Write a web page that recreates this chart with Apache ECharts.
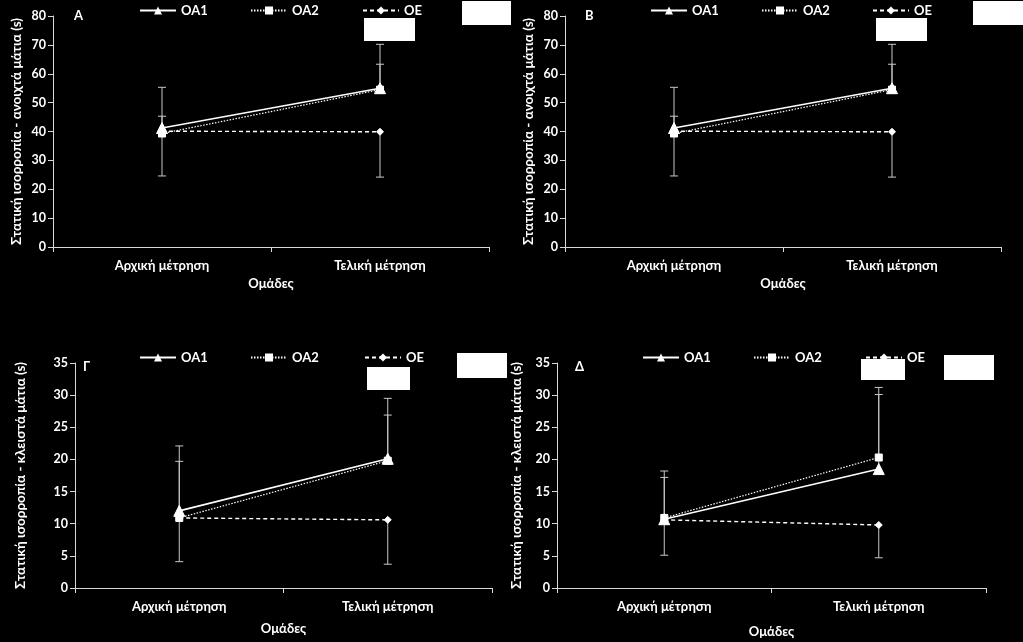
<!DOCTYPE html>
<html><head><meta charset="utf-8">
<script src="https://cdn.jsdelivr.net/npm/echarts@6/dist/echarts.min.js"></script>
<style>html,body{margin:0;padding:0;background:#000}#c{width:1023px;height:642px}</style>
</head><body><div id="c"></div>
<script>
// ---- data ----
const categories = ['Αρχική μέτρηση', 'Τελική μέτρηση'];
const seriesNames = ['OA1', 'OA2', 'OE'];
const yTicksOpen = [0, 80, 10];     // min, max, interval
const yTicksClosed = [0, 35, 5];
// Panel A (open eyes)
const A_OA1 = [41.2, 55.0];  const A_OA1_err = [55.3, 70.2];
const A_OA2 = [39.3, 54.5];  const A_OA2_err = [45.3, 63.3];
const A_OE  = [40.1, 39.9];  const A_OE_err  = [24.6, 24.2];
// Panel B (open eyes)
const B_OA1 = [41.2, 55.0];  const B_OA1_err = [55.3, 70.2];
const B_OA2 = [39.3, 54.5];  const B_OA2_err = [45.3, 63.3];
const B_OE  = [40.1, 39.9];  const B_OE_err  = [24.6, 24.2];
// Panel Γ (closed eyes)
const C_OA1 = [12.0, 20.1];  const C_OA1_err = [22.1, 29.5];
const C_OA2 = [10.9, 19.8];  const C_OA2_err = [19.7, 26.9];
const C_OE  = [10.9, 10.6];  const C_OE_err  = [4.1, 3.7];
// Panel Δ (closed eyes)
const D_OA1 = [10.7, 18.5];  const D_OA1_err = [18.2, 30.1];
const D_OA2 = [10.9, 20.3];  const D_OA2_err = [17.2, 31.2];
const D_OE  = [10.6, 9.8];   const D_OE_err  = [5.1, 4.7];

const yNameOpen = 'Στατική ισορροπία - ανοιχτά μάτια (s)';
const yNameClosed = 'Στατική ισορροπία - κλειστά μάτια (s)';
const xName = 'Ομάδες';
const letters = ['Α', 'Β', 'Γ', 'Δ'];

// ---- layout ----
const FONT = 'Lato, "Noto Sans", sans-serif';
const panels = [
  {grid:{left:53, right:534, top:16, bottom:395}, ticks:yTicksOpen, yName:yNameOpen, vals:[A_OA1,A_OA2,A_OE], errs:[A_OA1_err,A_OA2_err,A_OE_err], legX:[139,250,362], legY:4, letter:{x:79, y:16}, yGap:29, xGap:30},
  {grid:{left:565, right:22, top:16, bottom:395}, ticks:yTicksOpen, yName:yNameOpen, vals:[B_OA1,B_OA2,B_OE], errs:[B_OA1_err,B_OA2_err,B_OE_err], legX:[650,761,872], legY:4, letter:{x:590, y:16}, yGap:29, xGap:30},
  {grid:{left:75, right:531, top:363, bottom:54}, ticks:yTicksClosed, yName:yNameClosed, vals:[C_OA1,C_OA2,C_OE], errs:[C_OA1_err,C_OA2_err,C_OE_err], legX:[139,250,364], legY:351, letter:{x:88, y:367}, yGap:47, xGap:34},
  {grid:{left:557, right:37, top:363, bottom:54}, ticks:yTicksClosed, yName:yNameClosed, vals:[D_OA1,D_OA2,D_OE], errs:[D_OA1_err,D_OA2_err,D_OE_err], legX:[642,753,865], legY:351, letter:{x:580, y:367}, yGap:33, xGap:37}
];

const lineStyles = [
  {type:'solid', width:1.6, symbol:'triangle', size:11},
  {type:[1.5,1.5], width:1.2, symbol:'rect', size:7},
  {type:[4,3], width:1.4, symbol:'diamond', size:7}
];

const grids = [], xAxes = [], yAxes = [], series = [], legends = [], graphics = [];
panels.forEach((p, i) => {
  grids.push(Object.assign({containLabel:false}, p.grid));
  xAxes.push({
    type:'category', gridIndex:i, data:categories, boundaryGap:true,
    name:xName, nameLocation:'middle', nameGap:p.xGap,
    nameTextStyle:{color:'#fff', fontSize:13, fontWeight:'bold', fontFamily:FONT},
    axisLine:{lineStyle:{color:'#d9d9d9', width:1}},
    axisTick:{show:true, length:5, lineStyle:{color:'#d9d9d9'}},
    axisLabel:{color:'#fff', fontSize:13, fontWeight:'bold', fontFamily:FONT, margin:12},
    splitLine:{show:false}
  });
  yAxes.push({
    type:'value', gridIndex:i, min:p.ticks[0], max:p.ticks[1], interval:p.ticks[2],
    name:p.yName, nameLocation:'middle', nameGap:p.yGap, nameRotate:90,
    nameTextStyle:{color:'#fff', fontSize:13.5, fontWeight:'bold', fontFamily:FONT},
    axisLine:{show:true, lineStyle:{color:'#d9d9d9', width:1}},
    axisTick:{show:true, length:5, lineStyle:{color:'#d9d9d9'}},
    axisLabel:{color:'#fff', fontSize:12.5, fontWeight:'bold', fontFamily:FONT, margin:7},
    splitLine:{show:false}
  });
  // error bars
  seriesNames.forEach((nm, k) => {
    const errData = categories.map((c, j) => [j, p.vals[k][j], p.errs[k][j]]);
    series.push({
      type:'custom', name:nm + '_err', xAxisIndex:i, yAxisIndex:i, z:1, silent:true,
      data:errData,
      renderItem:function(params, api){
        const a = api.coord([api.value(0), api.value(1)]);
        const b = api.coord([api.value(0), api.value(2)]);
        const st = {stroke:'#c8c8c8', lineWidth:1};
        return {type:'group', children:[
          {type:'line', shape:{x1:a[0], y1:a[1], x2:b[0], y2:b[1]}, style:st},
          {type:'line', shape:{x1:b[0]-4, y1:b[1], x2:b[0]+4, y2:b[1]}, style:st}
        ]};
      }
    });
  });
  seriesNames.forEach((nm, k) => {
    const ls = lineStyles[k];
    series.push({
      type:'line', name:nm, xAxisIndex:i, yAxisIndex:i, z:3,
      data:p.vals[k], symbol:ls.symbol, symbolSize:ls.size, showSymbol:true,
      lineStyle:{color:'#fff', width:ls.width, type:ls.type},
      itemStyle:{color:'#fff', borderColor:'#fff'},
      animation:false
    });
    legends.push({
      left:p.legX[k], top:p.legY, padding:0, data:[nm], itemWidth:36, itemHeight:10,
      textStyle:{color:'#fff', fontSize:13, fontWeight:'bold', fontFamily:FONT},
      inactiveColor:'#fff'
    });
  });
  graphics.push({type:'text', left:p.letter.x - 5, top:p.letter.y - 7,
    style:{text:letters[i], fill:'#fff', font:'bold 13px ' + FONT}});
});

// white blank boxes present in the original figure
const boxes = [
  [364,18,51,23],[462,1,49,24],
  [876,18,51,23],[973,1,50,24],
  [367,367,43,23],[457,353,50,25],
  [861,359,44,21],[944,355,50,25]
];
boxes.forEach(b => graphics.push({type:'rect', shape:{x:b[0], y:b[1], width:b[2], height:b[3]}, style:{fill:'#fff'}, z:10}));

const chart = echarts.init(document.getElementById('c'), null, {renderer:'canvas'});
chart.setOption({
  backgroundColor:'#000',
  animation:false,
  grid:grids, xAxis:xAxes, yAxis:yAxes, series:series, legend:legends, graphic:graphics
});
</script></body></html>
